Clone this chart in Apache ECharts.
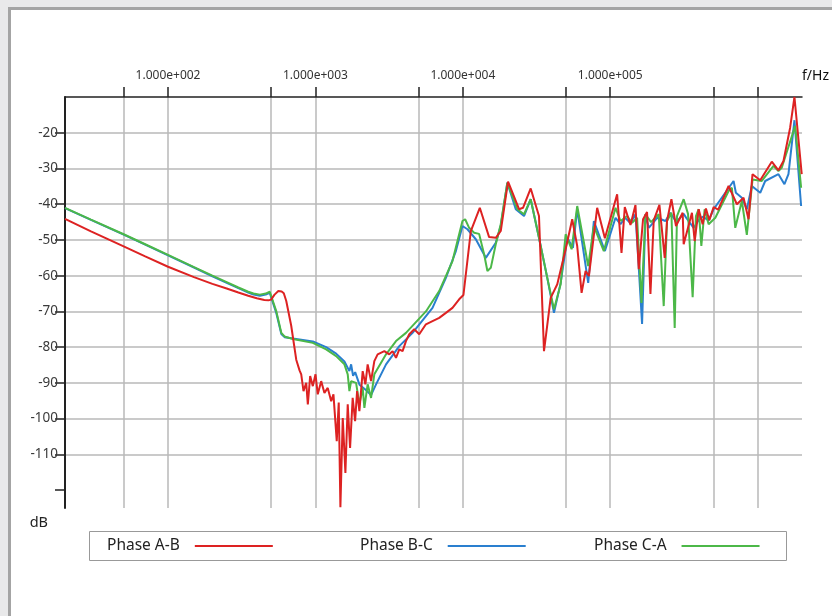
<!DOCTYPE html>
<html><head><meta charset="utf-8">
<script src="https://cdn.jsdelivr.net/npm/echarts@6/dist/echarts.min.js"></script>
<style>
html,body{margin:0;padding:0;background:#e9e9ea;overflow:hidden;}
#panel{position:absolute;left:8px;top:7px;width:830px;height:615px;background:#fff;border-left:3px solid #a4a4a4;border-top:3px solid #a4a4a4;}
#c{position:absolute;left:0;top:0;width:832px;height:616px;}
</style>
</head><body><div id="panel"></div><div id="c"></div>
<script>
// ---- data (frequency in Hz, level in dB) ----
const seriesNames = ['Phase A-B', 'Phase B-C', 'Phase C-A'];

const freqAB = [20, 30, 50, 70, 100, 150, 200, 250, 300, 350, 400, 450, 480, 500, 528, 560, 590, 610, 634, 685, 741, 780, 801, 830, 866, 888, 921, 960, 1001, 1037, 1094, 1151, 1212, 1279, 1325, 1395, 1439, 1477, 1532, 1597, 1656, 1718, 1789, 1858, 1917, 1987, 2092, 2182, 2261, 2384, 2509, 2642, 2934, 3171, 3338, 3520, 3706, 3901, 4113, 4330, 4682, 5060, 5617, 6227, 6913, 7674, 8506, 9441, 10095, 11329, 13035, 15073, 16723, 18081, 20263, 24058, 25604, 28865, 32853, 35525, 39437, 43713, 49826, 55210, 59694, 63920, 68050, 71651, 81518, 92000, 111350, 119230, 125530, 137180, 148300, 156140, 166960, 177700, 187370, 197260, 215600, 234190, 242750, 259990, 279280, 310000, 314850, 358380, 373830, 397920, 423500, 445800, 470020, 502800, 540000, 635160, 722880, 802200, 867300, 923100, 1041000, 1247000, 1384000, 1497000, 1661000, 1777000, 1991000];
const dbAB = [-44.1, -47.6, -51.8, -54.6, -57.5, -60.4, -62.3, -63.6, -64.7, -65.6, -66.3, -66.8, -66.9, -66.7, -65.3, -64.3, -64.4, -64.9, -67.1, -74.0, -83.5, -86.5, -87.6, -92.3, -90.0, -96.0, -88.1, -90.9, -87.6, -93.2, -89.5, -92.8, -91.4, -95.1, -93.2, -106.3, -95.5, -124.8, -99.8, -115.2, -96.0, -108.2, -94.2, -100.7, -92.3, -97.9, -86.7, -90.4, -84.8, -89.5, -83.9, -82.0, -81.1, -82.0, -81.1, -83.0, -80.6, -81.1, -78.3, -76.4, -75.0, -76.4, -73.6, -72.7, -71.8, -70.4, -69.0, -66.6, -65.4, -47.5, -41.0, -49.2, -49.4, -47.5, -33.7, -41.4, -41.0, -35.6, -43.3, -81.1, -66.2, -62.4, -52.6, -44.2, -51.7, -64.8, -58.7, -60.1, -41.0, -49.5, -37.2, -53.6, -40.8, -45.8, -40.2, -58.2, -44.2, -42.2, -65.1, -44.5, -40.2, -55.0, -44.7, -38.6, -46.1, -42.4, -51.2, -42.4, -50.3, -41.4, -45.6, -41.2, -44.5, -40.8, -41.5, -34.9, -40.0, -38.2, -44.2, -31.6, -33.3, -28.1, -30.5, -27.9, -18.6, -10.0, -31.6];

const freqBC = [20, 30, 50, 70, 100, 150, 200, 250, 300, 350, 380, 420, 460, 490, 500, 543, 587, 617, 703, 960, 1182, 1382, 1573, 1700, 1746, 1800, 1860, 1990, 2200, 2384, 2577, 3013, 3706, 4560, 6227, 7674, 8968, 9940, 10745, 12248, 14318, 16723, 18081, 20045, 22852, 26008, 28865, 32853, 37401, 41521, 46092, 51082, 55818, 59694, 70864, 77426, 92000, 108600, 117400, 126000, 137000, 148300, 156140, 164400, 173330, 182470, 197000, 207650, 236750, 255960, 280000, 314850, 330000, 368060, 397920, 423500, 465000, 502800, 686550, 711660, 781200, 844500, 913100, 1041000, 1125000, 1384000, 1520000, 1618000, 1777000, 1972000];
const dbBC = [-41.1, -44.4, -48.5, -51.3, -54.3, -57.7, -60.2, -62.0, -63.5, -64.7, -65.3, -65.6, -65.3, -64.8, -64.4, -70.5, -76.3, -77.2, -77.6, -78.4, -80.0, -81.8, -84.0, -86.7, -84.8, -88.0, -87.0, -90.5, -92.0, -93.4, -90.4, -84.8, -79.7, -76.0, -69.0, -60.6, -53.1, -46.1, -47.0, -49.8, -55.0, -50.8, -46.0, -34.0, -41.4, -43.3, -38.6, -49.4, -60.6, -70.4, -62.0, -49.4, -52.2, -41.4, -62.0, -44.7, -53.1, -43.8, -45.6, -43.8, -45.3, -42.8, -57.7, -73.5, -42.8, -46.6, -45.0, -43.8, -44.7, -42.4, -45.0, -42.7, -44.0, -46.6, -44.5, -43.5, -44.5, -41.4, -33.5, -36.8, -38.2, -41.4, -34.9, -36.8, -33.5, -31.6, -34.4, -31.6, -16.5, -40.5];

const freqCA = [20, 30, 50, 70, 100, 150, 200, 250, 300, 350, 380, 420, 460, 490, 500, 543, 587, 617, 703, 960, 1182, 1382, 1573, 1656, 1700, 1746, 1887, 1987, 2092, 2148, 2261, 2384, 2509, 3013, 3520, 4113, 5617, 6913, 8506, 9940, 10368, 11033, 11928, 12894, 13941, 14679, 15477, 16723, 18081, 20045, 23433, 26008, 28865, 32853, 37401, 41521, 46092, 49826, 54702, 59694, 70864, 77426, 90466, 108600, 117400, 130110, 140640, 152060, 162860, 173330, 189000, 213230, 230550, 242750, 259990, 273680, 283680, 314850, 337000, 362300, 381480, 397920, 414980, 436860, 464960, 516300, 635160, 668650, 704970, 781200, 844500, 923100, 1067000, 1281000, 1384000, 1457000, 1796000, 1972000];
const dbCA = [-41.0, -44.3, -48.4, -51.2, -54.2, -57.6, -60.0, -61.8, -63.3, -64.5, -65.0, -65.3, -65.0, -64.5, -64.0, -70.0, -76.0, -77.0, -77.7, -78.8, -80.6, -82.5, -84.8, -87.6, -92.3, -89.5, -90.0, -96.0, -91.4, -97.0, -90.4, -94.2, -87.6, -82.0, -78.3, -76.0, -70.0, -64.3, -55.9, -44.7, -44.2, -46.6, -48.0, -48.3, -54.0, -58.7, -57.8, -51.2, -45.6, -34.0, -41.4, -42.8, -38.6, -49.4, -60.6, -69.4, -62.4, -48.4, -52.6, -40.5, -57.3, -46.1, -53.1, -41.0, -44.7, -43.3, -45.2, -43.8, -67.6, -42.8, -45.0, -42.8, -68.5, -44.7, -42.4, -74.6, -43.3, -38.6, -42.7, -66.0, -43.3, -41.4, -51.7, -41.4, -45.6, -43.8, -36.3, -35.4, -46.6, -39.1, -48.6, -33.1, -33.5, -29.3, -30.7, -29.8, -18.1, -35.4];

// axis ticks / labels
const xTickValues = [50, 100, 500, 1000, 5000, 10000, 50000, 100000, 500000, 1000000];
const xLabelValues = [100, 1000, 10000, 100000];
const yTickValues = [-120, -110, -100, -90, -80, -70, -60, -50, -40, -30, -20];
const yLabelValues = [-110, -100, -90, -80, -70, -60, -50, -40, -30, -20];

const colors = {'Phase A-B': '#dd2222', 'Phase B-C': '#2a7fcf', 'Phase C-A': '#4cb848'};
const FONT = '"Noto Sans", "Open Sans", sans-serif';

function pairs(fs, ds) { return fs.map((f, i) => [f, ds[i]]); }
function sci(v) {
  const e = Math.round(Math.log10(v));
  const m = v / Math.pow(10, e);
  return m.toFixed(3) + 'e' + (e >= 0 ? '+' : '-') + String(Math.abs(e)).padStart(3, '0');
}

const chart = echarts.init(document.getElementById('c'), null, {renderer: 'canvas'});
const gridColor = '#b9b9b9';
const splitColorsY = yTickValues.map((v, i) => i === 0 ? 'rgba(0,0,0,0)' : gridColor);

function mkLegend(name, left) {
  return {
    data: [name], left: left, top: 538, padding: 0,
    align: 'right', icon: 'rect', itemWidth: 78, itemHeight: 2,
    selectedMode: false,
    formatter: n => '{t|' + n + '}',
    textStyle: {color: '#222', fontFamily: FONT, fontSize: 15.5,
      rich: {t: {fontFamily: FONT, fontSize: 15.5, color: '#222', padding: [0, 10, 0, 0]}}}
  };
}

chart.setOption({
  animation: false,
  backgroundColor: 'transparent',
  grid: {left: 65, right: 28.4, top: 97, bottom: 108, containLabel: false},
  xAxis: {
    type: 'log', logBase: 10, min: 20, max: 2000000, position: 'top',
    name: 'f/Hz', nameLocation: 'end', nameGap: 0,
    nameTextStyle: {fontFamily: FONT, fontSize: 14, color: '#111', align: 'left', verticalAlign: 'bottom', padding: [0, 0, 14, 0]},
    axisLine: {show: true, lineStyle: {color: '#222', width: 1.5}},
    axisTick: {show: true, customValues: xTickValues, inside: false, length: 10, lineStyle: {color: '#222', width: 1.5}},
    axisLabel: {show: true, customValues: xLabelValues, formatter: sci, margin: 15, fontFamily: FONT, fontSize: 12, color: '#333'},
    splitLine: {show: true, lineStyle: {color: gridColor, width: 1.5}},
    minorTick: {show: false}, minorSplitLine: {show: false}
  },
  yAxis: {
    type: 'value', min: -125, max: -10,
    name: 'dB', nameLocation: 'start', nameGap: 15,
    nameTextStyle: {fontFamily: FONT, fontSize: 14.5, color: '#222', align: 'right', verticalAlign: 'middle', padding: [0, 17, 0, 0]},
    axisLine: {show: true, onZero: false, lineStyle: {color: '#222', width: 2}},
    axisTick: {show: true, customValues: yTickValues, length: 10, lineStyle: {color: '#222', width: 1.5}},
    axisLabel: {show: true, customValues: yLabelValues, margin: 7, fontFamily: FONT, fontSize: 13.5, color: '#3a3a3a'},
    splitLine: {show: true, lineStyle: {color: splitColorsY, width: 1.5}}
  },
  legend: [mkLegend('Phase A-B', 107), mkLegend('Phase B-C', 360), mkLegend('Phase C-A', 594)],
  graphic: [{
    type: 'rect', silent: true,
    shape: {x: 89.5, y: 531.5, width: 697, height: 29},
    style: {fill: 'none', stroke: '#999', lineWidth: 1}
  }],
  series: [
    {name: 'Phase B-C', type: 'line', data: pairs(freqBC, dbBC), z: 2},
    {name: 'Phase C-A', type: 'line', data: pairs(freqCA, dbCA), z: 3},
    {name: 'Phase A-B', type: 'line', data: pairs(freqAB, dbAB), z: 4}
  ].map(s => Object.assign(s, {
    showSymbol: false, symbol: 'none', clip: true,
    color: colors[s.name], itemStyle: {color: colors[s.name]},
    lineStyle: {color: colors[s.name], width: 2}
  }))
});
</script>
</body></html>
